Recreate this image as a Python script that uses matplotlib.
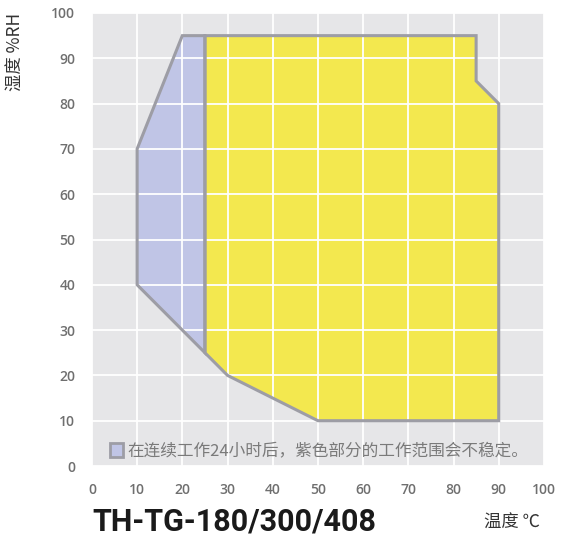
import matplotlib
matplotlib.use("Agg")
import matplotlib.pyplot as plt
from matplotlib.patches import Rectangle

plt.rcParams['font.family'] = ['Noto Sans CJK SC', 'DejaVu Sans']

# temperature / humidity outline of the stable range (yellow)
yellow_t = [25, 85, 85, 90, 90, 50, 30, 25]
yellow_h = [95, 95, 85, 80, 10, 10, 20, 25]
# range that becomes unstable after 24h (purple)
blue_t = [10, 10, 20, 25, 25]
blue_h = [40, 70, 95, 95, 25]

ticks = [0, 10, 20, 30, 40, 50, 60, 70, 80, 90, 100]
note = '在连续工作24小时后，紫色部分的工作范围会不稳定。'
model = 'TH-TG-180/300/408'

edge = '#9d9da5'
tick_col = '#6f6f6f'

fig = plt.figure(figsize=(5.64, 5.46), dpi=100)
ax = fig.add_axes([0.163, 0.1465, 0.8014, 0.8297])
ax.set_facecolor('#e6e6e8')
ax.set_xlim(0, 100)
ax.set_ylim(0, 100)

ax.fill(blue_t, blue_h, color='#c0c5e6', lw=0, zorder=1)
ax.fill(yellow_t, yellow_h, color='#f3e84f', lw=0, zorder=1)

ax.set_xticks(ticks)
ax.set_yticks(ticks)
ax.grid(True, color='white', lw=1.3, zorder=2)
ax.set_axisbelow(False)

# outline drawn on top of the grid
ax.fill(blue_t, blue_h, fill=False, ec=edge, lw=2.2, zorder=3, joinstyle='miter')
ax.fill(yellow_t, yellow_h, fill=False, ec=edge, lw=2.2, zorder=3, joinstyle='miter')

for s in ax.spines.values():
    s.set_visible(False)
ax.tick_params(length=0, colors=tick_col, labelsize=10)
ax.tick_params(axis='x', pad=12)
ax.tick_params(axis='y', pad=12)
for lab in ax.get_xticklabels() + ax.get_yticklabels():
    lab.set_fontfamily(['Open Sans', 'DejaVu Sans'])
    lab.set_fontweight('semibold')

# note inside plot with small swatch
ax.add_patch(Rectangle((3.9, 2.0), 3.0, 3.0, fc='#c0c5e6', ec=edge, lw=2, zorder=4))
ax.text(7.8, 3.4, note, fontsize=12, color='#7a7a7a', va='center', ha='left', zorder=4)

fig.text(0.163, 0.045, model, fontsize=22, fontweight='bold', color='#1a1a1a',
         family=['Roboto', 'DejaVu Sans'], va='center', ha='left')
fig.text(0.858, 0.043, '温度 ℃', fontsize=12.5, color='#333333', va='center', ha='left')
fig.text(0.027, 0.904, '湿度 %RH', fontsize=12.5, color='#333333', rotation=90,
         va='center', ha='center')

fig.savefig('out.png', dpi=100)
